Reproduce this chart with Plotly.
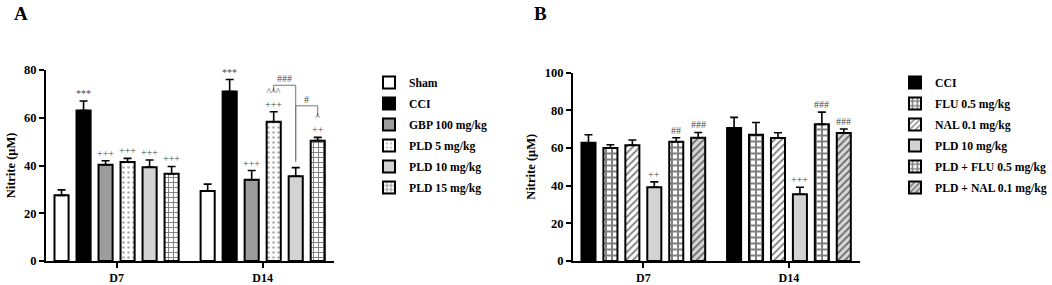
import plotly.graph_objects as go

# ---------------- data ----------------
days = ["D7", "D14"]
groups_a = ["Sham", "CCI", "GBP 100 mg/kg", "PLD 5 mg/kg", "PLD 10 mg/kg", "PLD 15 mg/kg"]
vals_a = {
    "Sham": [27.5, 29.3],
    "CCI": [63.0, 71.0],
    "GBP 100 mg/kg": [40.3, 34.0],
    "PLD 5 mg/kg": [41.5, 58.3],
    "PLD 10 mg/kg": [39.3, 35.5],
    "PLD 15 mg/kg": [36.5, 50.4],
}
err_a = {
    "Sham": [2.3, 2.9],
    "CCI": [4.0, 5.0],
    "GBP 100 mg/kg": [1.7, 3.9],
    "PLD 5 mg/kg": [1.5, 4.2],
    "PLD 10 mg/kg": [3.0, 3.6],
    "PLD 15 mg/kg": [3.1, 1.4],
}
marks_a = {
    "Sham": ["", ""],
    "CCI": ["***", "***"],
    "GBP 100 mg/kg": ["+++", "+++"],
    "PLD 5 mg/kg": ["+++", "^^^<br>+++"],
    "PLD 10 mg/kg": ["+++", ""],
    "PLD 15 mg/kg": ["+++", "^<br>++"],
}

groups_b = ["CCI", "FLU 0.5 mg/kg", "NAL 0.1 mg/kg", "PLD 10 mg/kg",
            "PLD + FLU 0.5 mg/kg", "PLD + NAL 0.1 mg/kg"]
vals_b = {
    "CCI": [62.7, 70.5],
    "FLU 0.5 mg/kg": [60.0, 67.0],
    "NAL 0.1 mg/kg": [61.4, 65.2],
    "PLD 10 mg/kg": [39.1, 35.4],
    "PLD + FLU 0.5 mg/kg": [63.3, 72.5],
    "PLD + NAL 0.1 mg/kg": [65.4, 67.9],
}
err_b = {
    "CCI": [4.3, 5.7],
    "FLU 0.5 mg/kg": [1.7, 6.5],
    "NAL 0.1 mg/kg": [2.8, 2.8],
    "PLD 10 mg/kg": [2.9, 3.7],
    "PLD + FLU 0.5 mg/kg": [2.1, 6.5],
    "PLD + NAL 0.1 mg/kg": [2.8, 2.1],
}
marks_b = {
    "CCI": ["", ""],
    "FLU 0.5 mg/kg": ["", ""],
    "NAL 0.1 mg/kg": ["", ""],
    "PLD 10 mg/kg": ["++", "+++"],
    "PLD + FLU 0.5 mg/kg": ["##", "###"],
    "PLD + NAL 0.1 mg/kg": ["###", "###"],
}

# comparison brackets in panel A (D14): (from group, to group, label, bracket level, left end, right end)
brackets_a = [
    ("PLD 5 mg/kg", "PLD 10 mg/kg", "###", 73.6, 70.8, 42.3),
    ("PLD 10 mg/kg", "PLD 15 mg/kg", "#", 65.0, 41.4, 60.4),
]

# ---------------- styles ----------------
FONT = "Liberation Serif"
BARGAP = 0.096
BARGROUPGAP = 0.36

style_a = {
    "Sham": dict(color="white"),
    "CCI": dict(color="black"),
    "GBP 100 mg/kg": dict(color="#9c9c9c"),
    "PLD 5 mg/kg": dict(color="white", pattern=dict(shape=".", fgcolor="#555", bgcolor="white", size=5, solidity=0.2)),
    "PLD 10 mg/kg": dict(color="#d3d3d3"),
    "PLD 15 mg/kg": dict(color="white", pattern=dict(shape="+", fgcolor="black", bgcolor="white", size=5, solidity=0.35)),
}
style_b = {
    "CCI": dict(color="black"),
    "FLU 0.5 mg/kg": dict(color="white", pattern=dict(shape="+", fgcolor="black", bgcolor="white", size=6, solidity=0.55)),
    "NAL 0.1 mg/kg": dict(color="white", pattern=dict(shape="/", fgcolor="black", bgcolor="white", size=5, solidity=0.35)),
    "PLD 10 mg/kg": dict(color="#d3d3d3"),
    "PLD + FLU 0.5 mg/kg": dict(color="white", pattern=dict(shape="+", fgcolor="black", bgcolor="white", size=6, solidity=0.55)),
    "PLD + NAL 0.1 mg/kg": dict(color="#cfcfcf", pattern=dict(shape="/", fgcolor="black", bgcolor="#d8d8d8", size=5, solidity=0.35)),
}

fig = go.Figure()
xs = [0, 1]


def add_panel(groups, vals, errs, styles, xa, ya, legend):
    for g in groups:
        st = styles[g]
        marker = dict(color=st["color"], line=dict(color="black", width=2))
        if "pattern" in st:
            marker["pattern"] = st["pattern"]
        fig.add_trace(go.Bar(
            x=xs, y=vals[g], name=g, marker=marker,
            error_y=dict(type="data", array=errs[g], arrayminus=[0, 0], symmetric=False,
                         color="black", thickness=1.6, width=4),
            xaxis=xa, yaxis=ya, legend=legend, legendgroup=legend + g,
        ))


add_panel(groups_a, vals_a, err_a, style_a, "x", "y", "legend")
add_panel(groups_b, vals_b, err_b, style_b, "x2", "y2", "legend2")


def bar_center(groups, g, day_idx):
    n = len(groups)
    slot = (1 - BARGAP) / n
    i = groups.index(g)
    return xs[day_idx] - (1 - BARGAP) / 2 + (i + 0.5) * slot


MARK_FONT = dict(family=FONT, size=10, color="#4a4a4a")


def add_marks(groups, vals, errs, marks, xref, yref):
    for g in groups:
        for d in range(2):
            t = marks[g][d]
            if not t:
                continue
            fig.add_annotation(
                x=bar_center(groups, g, d), y=vals[g][d] + errs[g][d], xref=xref, yref=yref,
                text=t, showarrow=False, yanchor="bottom", yshift=0, font=MARK_FONT,
            )


add_marks(groups_a, vals_a, err_a, marks_a, "x", "y")
add_marks(groups_b, vals_b, err_b, marks_b, "x2", "y2")

for g1, g2, lab, lvl, yl, yr in brackets_a:
    x1 = bar_center(groups_a, g1, 1)
    x2 = bar_center(groups_a, g2, 1)
    path = f"M {x1},{yl} L {x1},{lvl} L {x2},{lvl} L {x2},{yr}"
    fig.add_shape(type="path", path=path, xref="x", yref="y", line=dict(color="#777", width=1))
    fig.add_annotation(x=(x1 + x2) / 2, y=lvl, xref="x", yref="y", text=lab, showarrow=False,
                       yanchor="bottom", yshift=-1, font=MARK_FONT)

axis_font = dict(family=FONT, size=12.5, color="black", weight="bold")
xtick_font = dict(family=FONT, size=12, color="black", weight="bold")
common_x = dict(tickmode="array", tickvals=xs, ticktext=days, showline=True, linecolor="black",
                linewidth=2, ticks="outside", ticklen=5, tickwidth=2, tickcolor="black",
                tickfont=xtick_font, showgrid=False, zeroline=False, range=[-0.483, 1.488],
                automargin=False)
common_y = dict(showline=True, linecolor="black", linewidth=2, ticks="outside", ticklen=5,
                tickwidth=2, tickcolor="black", tickfont=axis_font, showgrid=False, zeroline=False,
                automargin=False,
                title=dict(text="Nitrite (μM)", font=axis_font, standoff=6))

W, H = 1052, 285
LEG_FONT = dict(family=FONT, size=11.7, weight="bold")
fig.update_layout(
    width=W, height=H, margin=dict(l=0, r=0, t=0, b=0),
    plot_bgcolor="white", paper_bgcolor="white",
    barmode="group", bargap=BARGAP, bargroupgap=BARGROUPGAP,
    font=dict(family=FONT, color="black"),
    xaxis=dict(domain=[46 / W, 334 / W], anchor="y", **common_x),
    yaxis=dict(domain=[(H - 261) / H, (H - 70) / H], anchor="x", range=[0, 80],
               tickvals=[0, 20, 40, 60, 80], **common_y),
    xaxis2=dict(domain=[573 / W, 860 / W], anchor="y2", **common_x),
    yaxis2=dict(domain=[(H - 261) / H, (H - 72.5) / H], anchor="x2", range=[0, 100],
                tickvals=[0, 20, 40, 60, 80, 100], **common_y),
    legend=dict(x=369 / W, y=1 - 68 / H, xanchor="left", yanchor="top",
                font=LEG_FONT, tracegroupgap=2, itemwidth=30, bgcolor="rgba(0,0,0,0)"),
    legend2=dict(x=895 / W, y=1 - 68 / H, xanchor="left", yanchor="top",
                 font=LEG_FONT, tracegroupgap=2, itemwidth=30, bgcolor="rgba(0,0,0,0)"),
    showlegend=True,
)

fig.add_annotation(x=12 / W, y=1 - 1 / H, xref="paper", yref="paper", text="A", showarrow=False,
                   xanchor="left", yanchor="top", font=dict(family=FONT, size=19, weight="bold"))
fig.add_annotation(x=532 / W, y=1 - 1 / H, xref="paper", yref="paper", text="B", showarrow=False,
                   xanchor="left", yanchor="top", font=dict(family=FONT, size=19, weight="bold"))

fig.write_html("out.html", config={"displayModeBar": False},
               post_script="document.body.style.margin='0';document.body.style.overflow='hidden';")
